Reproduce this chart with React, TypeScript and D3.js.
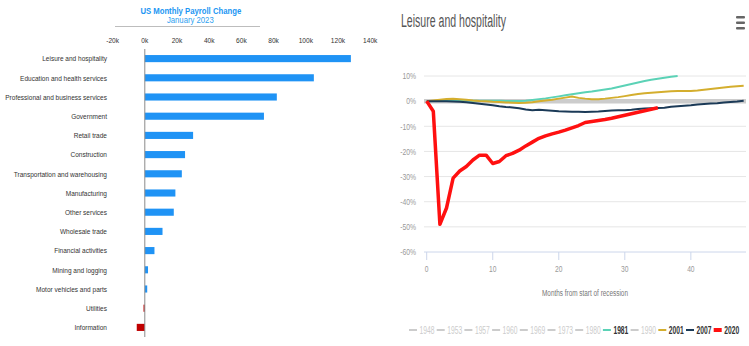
import React from "react";
import * as d3 from "d3";

// ---------- Left chart data ----------
const categories = [
  "Leisure and hospitality",
  "Education and health services",
  "Professional and business services",
  "Government",
  "Retail trade",
  "Construction",
  "Transportation and warehousing",
  "Manufacturing",
  "Other services",
  "Wholesale trade",
  "Financial activities",
  "Mining and logging",
  "Motor vehicles and parts",
  "Utilities",
  "Information",
];
const payrollK = [128, 105, 82, 74, 30, 25, 23, 19, 18, 11, 6, 2, 1.5, -0.8, -5];
const leftTicks = [-20, 0, 20, 40, 60, 80, 100, 120, 140];

// ---------- Right chart data (% change vs. start of recession, by month) ----------
const s2020 = [0, -4, -49, -42.5, -30.6, -27.8, -26, -23.4, -21.5, -21.5, -24.8, -24, -21.7, -20.8, -19.5, -17.8, -16.3, -14.8, -13.8, -13, -12.3, -11.5, -10.6, -9.7, -8.5, -8.1, -7.7, -7.3, -6.8, -6.2, -5.6, -5, -4.4, -3.8, -3.2, -2.6];
const s2007 = [0, 0, 0, 0, -0.1, -0.2, -0.4, -0.7, -1, -1.3, -1.6, -2, -2.3, -2.5, -2.8, -3.3, -3.6, -3.4, -3.6, -3.8, -4, -4.1, -4.2, -4.2, -4.3, -4.2, -4.1, -3.9, -3.7, -3.6, -3.6, -3.4, -3.1, -2.9, -2.8, -2.7, -2.6, -2.2, -2, -1.8, -1.6, -1.3, -1.1, -0.9, -0.8, -0.5, -0.3, -0.1, 0.2];
const s2001 = [0, 0.3, 0.6, 0.9, 1, 0.8, 0.6, 0.3, 0.1, 0, -0.2, -0.3, -0.5, -0.6, -0.7, -0.6, -0.4, 0, 0.3, 0.6, 1, 1.4, 1.8, 1.3, 1, 0.8, 0.8, 1, 1.3, 1.6, 2, 2.4, 2.8, 3.1, 3.3, 3.5, 3.7, 3.9, 4, 4, 4, 4.2, 4.5, 4.8, 5.1, 5.4, 5.7, 5.9, 6.1];
const s1981 = [0, 0.1, 0.2, 0.3, 0.3, 0.3, 0.2, 0.2, 0.2, 0.2, 0.2, 0.2, 0.1, 0.1, 0.1, 0.2, 0.5, 0.8, 1.1, 1.5, 1.9, 2.3, 2.7, 3.1, 3.5, 3.8, 4.2, 4.6, 5, 5.6, 6.2, 6.8, 7.4, 8, 8.5, 8.9, 9.3, 9.7, 10];
const yTicksRight = [10, 0, -10, -20, -30, -40, -50, -60];
const xTicksRight = [0, 10, 20, 30, 40];
const legendYears = ["1948", "1953", "1957", "1960", "1969", "1973", "1980", "1981", "1990", "2001", "2007", "2020"];
const legendActive: Record<string, string> = { "1981": "#5bd2b6", "2001": "#d4ae2e", "2007": "#1b3a57", "2020": "#ff1010" };

const FONT = "'Liberation Sans', Arial, sans-serif";

function T(props: { x: number; y: number; sx: number; size: number; anchor?: string; fill?: string; weight?: any; children: any }) {
  const { x, y, sx, size, anchor = "start", fill = "#333", weight = "normal", children } = props;
  return (
    <text
      transform={`translate(${x},${y}) scale(${sx},1)`}
      textAnchor={anchor}
      fontSize={size}
      fontFamily={FONT}
      fill={fill}
      fontWeight={weight}
    >
      {children}
    </text>
  );
}

export default function App() {
  // Left scales
  const xL = d3.scaleLinear().domain([-20, 140]).range([112.6, 370.2]);
  const yL = d3.scaleBand<string>().domain(categories).range([49, 337]).paddingInner(0.63).paddingOuter(0.315);

  // Right scales
  const xR = d3.scaleLinear().domain([0, 48.2]).range([426.7, 745]);
  const yR = d3.scaleLinear().domain([-60, 10]).range([252, 76]);
  const line = d3.line<number>().x((_, i) => xR(i)).y((v) => yR(v)).curve(d3.curveLinear);

  return (
    <svg width={749} height={346} style={{ position: "absolute", left: 0, top: 0, background: "#fff" }}>
      <rect x={0} y={0} width={749} height={346} fill="#fff" />
      {/* ---------- Left chart ---------- */}
      <T x={190.8} y={14} sx={0.88} size={8.8} anchor="middle" fill="#2196f3" weight="bold">US Monthly Payroll Change</T>
      <T x={190.3} y={23.3} sx={0.92} size={8.4} anchor="middle" fill="#2f9ff0">January 2023</T>
      <line x1={115} x2={260} y1={26.5} y2={26.5} stroke="#bdbdbd" strokeWidth={1} />
      {leftTicks.map((t) => (
        <T key={t} x={xL(t)} y={43.3} sx={0.88} size={7.5} anchor="middle" fill="#333">{`${t}k`}</T>
      ))}
      {categories.map((c, i) => {
        const v = payrollK[i];
        const y0 = yL(c)!;
        return (
          <g key={c}>
            <rect
              x={xL(Math.min(0, v))}
              y={y0}
              width={Math.abs(xL(v) - xL(0))}
              height={yL.bandwidth()}
              fill={v >= 0 ? "#1f93f5" : "#c00000"}
            />
            <T x={107} y={y0 + yL.bandwidth() / 2 + 2.7} sx={0.87} size={7.5} anchor="end" fill="#333">{c}</T>
          </g>
        );
      })}
      <line x1={xL(0)} x2={xL(0)} y1={49} y2={337} stroke="#8a8a8a" strokeWidth={1} />

      {/* ---------- Right chart ---------- */}
      <T x={401} y={27} sx={0.6} size={17.6} fill="#555">Leisure and hospitality</T>
      {[16, 21.5, 27].map((y) => (
        <rect key={y} x={736} y={y} width={9} height={2.4} fill="#666" rx={1} />
      ))}
      {yTicksRight.map((t) => (
        <g key={t}>
          {t !== -60 && <line x1={424} x2={746} y1={yR(t)} y2={yR(t)} stroke="#e6e6e6" strokeWidth={1} />}
          <T x={416} y={yR(t) + 3.3} sx={0.73} size={9.3} anchor="end" fill="#999">{`${t}%`}</T>
        </g>
      ))}
      <line x1={424} x2={746} y1={yR(0)} y2={yR(0)} stroke="#cccccc" strokeWidth={4.5} />
      <line x1={424} x2={746} y1={yR(-60)} y2={yR(-60)} stroke="#ccd6eb" strokeWidth={1} />
      {xTicksRight.map((t) => (
        <g key={t}>
          <line x1={xR(t)} x2={xR(t)} y1={yR(-60)} y2={yR(-60) + 8} stroke="#ccd6eb" strokeWidth={1} />
          <T x={xR(t)} y={271.7} sx={0.72} size={9.3} anchor="middle" fill="#999">{t}</T>
        </g>
      ))}
      <T x={585} y={296} sx={0.66} size={9.7} anchor="middle" fill="#777">Months from start of recession</T>

      <path d={line(s1981) || ""} fill="none" stroke={legendActive["1981"]} strokeWidth={2} />
      <path d={line(s2001) || ""} fill="none" stroke={legendActive["2001"]} strokeWidth={2} />
      <path d={line(s2007) || ""} fill="none" stroke={legendActive["2007"]} strokeWidth={2} />
      <path d={line(s2020) || ""} fill="none" stroke={legendActive["2020"]} strokeWidth={3.5} strokeLinejoin="round" />

      {legendYears.map((yr, i) => {
        const x0 = 409 + i * 27.7;
        const col = legendActive[yr];
        const active = !!col;
        return (
          <g key={yr}>
            {yr === "2020" ? (
              <rect x={x0} y={328} width={8} height={4} fill={col} />
            ) : (
              <line x1={x0} x2={x0 + 8} y1={330} y2={330} stroke={active ? col : "#cccccc"} strokeWidth={2} />
            )}
            <T x={x0 + 10.5} y={334} sx={0.6} size={11.2} fill={active ? "#333" : "#cccccc"} weight={active ? "bold" : "normal"}>{yr}</T>
          </g>
        );
      })}
    </svg>
  );
}
